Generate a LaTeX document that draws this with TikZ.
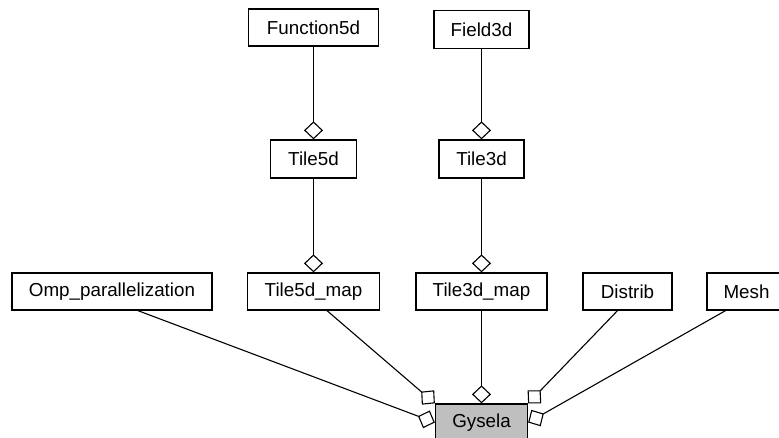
\documentclass[tikz,border=0pt]{standalone}
\usepackage{fontspec}
\setmainfont{Liberation Sans}
\usetikzlibrary{arrows.meta}
\begin{document}
\begin{tikzpicture}[x=1pt,y=-1pt,
  box/.style={draw=black,line width=1.3pt,fill=white,inner sep=0pt,
    minimum height=37pt,font=\fontsize{18.8}{22}\selectfont},
  agg/.style={line width=1.1pt,-{Diamond[open,length=18pt,width=19pt,line width=1.1pt]}}]
\useasboundingbox (0,0) rectangle (779,438);
\node[box,minimum width=130pt] (Function5d) at (313.5,27.5) {Function5d};
\node[box,minimum width=95pt,minimum height=38pt] (Field3d) at (481.5,29.5) {Field3d};
\node[box,minimum width=86pt,minimum height=38pt] (Tile5d) at (313.5,159) {Tile5d};
\node[box,minimum width=85pt,minimum height=38pt] (Tile3d) at (481.5,159) {Tile3d};
\node[box,minimum width=200pt] (Omp) at (112,291.5) {Omp\_parallelization};
\node[box,minimum width=132pt] (Tile5dmap) at (313.5,291.5) {Tile5d\_map};
\node[box,minimum width=131pt] (Tile3dmap) at (481.5,291.5) {Tile3d\_map};
\node[box,minimum width=89pt] (Distrib) at (627.5,291.5) {Distrib};
\node[box,minimum width=79pt] (Mesh) at (746.5,291.5) {Mesh};
\node[box,minimum width=92pt,fill={rgb,255:red,191;green,191;blue,191}] (Gysela) at (481.5,422.5) {Gysela};
\draw[agg] (Function5d.south) -- (Tile5d.north);
\draw[agg] (Field3d.south) -- (Tile3d.north);
\draw[agg] (Tile5d.south) -- (Tile5dmap.north);
\draw[agg] (Tile3d.south) -- (Tile3dmap.north);
\draw[agg] ([xshift=26pt]Omp.south) -- (Gysela.west);
\draw[agg] ([xshift=13.5pt]Tile5dmap.south) -- (Gysela.north west);
\draw[agg] (Tile3dmap.south) -- (Gysela.north);
\draw[agg] ([xshift=-10pt]Distrib.south) -- (Gysela.north east);
\draw[agg] ([xshift=-21pt]Mesh.south) -- (Gysela.east);
\end{tikzpicture}
\end{document}
